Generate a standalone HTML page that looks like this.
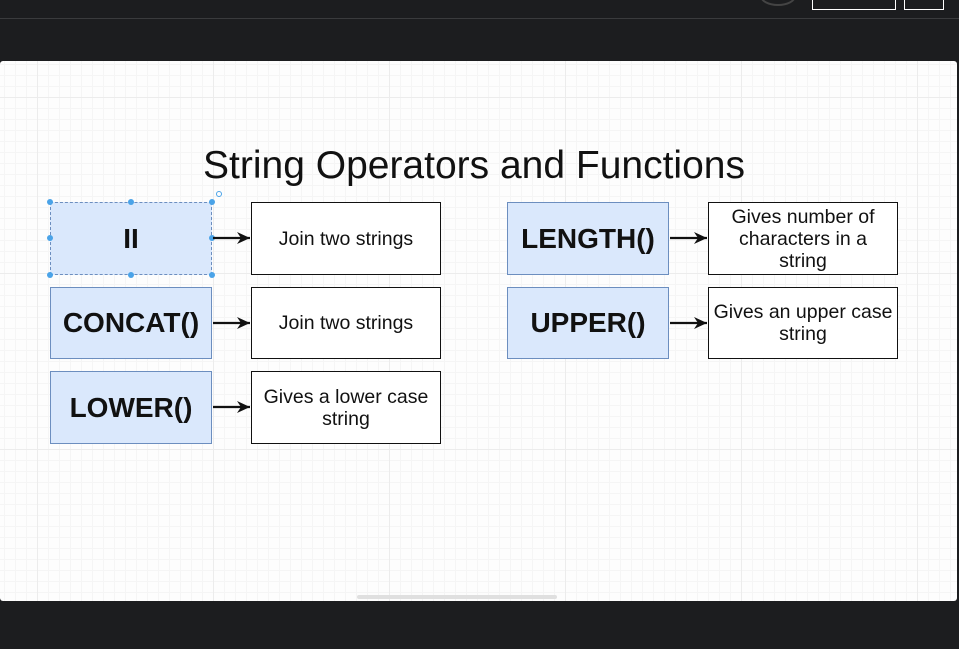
<!DOCTYPE html>
<html><head><meta charset="utf-8"><style>
*{margin:0;padding:0;box-sizing:border-box}
body{width:959px;height:649px;background:#1c1d1f;position:relative;overflow:hidden;font-family:"Liberation Sans",Arial,sans-serif}
.canvas{position:absolute;left:0;top:61px;width:957px;height:540px;background-color:#fdfdfd;
background-image:linear-gradient(#ececec 1px,transparent 1px),linear-gradient(90deg,#ececec 1px,transparent 1px),linear-gradient(#f5f5f5 1px,transparent 1px),linear-gradient(90deg,#f5f5f5 1px,transparent 1px);
background-size:176px 176px,176px 176px,11px 11px,11px 11px;background-position:37px 36px,37px 36px,4px 3px,4px 3px;border-radius:3px}
.b{position:absolute;display:flex;align-items:center;justify-content:center;text-align:center}
.f{background:#dae8fc;border:1px solid #6c8ebf;font-weight:bold;font-size:28px;color:#111}
.d{background:#fff;border:1.5px solid #111;font-size:19.5px;line-height:22px;color:#111;white-space:nowrap}
.title{position:absolute;top:144px;left:0;width:948px;text-align:center;font-size:39px;color:#111}
.h{position:absolute;width:6px;height:6px;border-radius:50%;background:#4aa3e8}
</style></head><body>
<div style="position:absolute;left:0;top:18px;width:959px;height:1px;background:#3a3b3d"></div>
<div style="position:absolute;left:812px;top:-2px;width:84px;height:12px;border:1px solid #fff"></div>
<div style="position:absolute;left:904px;top:-2px;width:40px;height:12px;border:1px solid #fff"></div>
<div style="position:absolute;left:760px;top:-14px;width:36px;height:20px;border-radius:50%;border:2px solid #444"></div>
<div class="canvas"></div>
<div style="position:absolute;left:357px;top:595px;width:200px;height:4px;background:#e0e0e0;border-radius:2px"></div>
<div class="title">String Operators and Functions</div>

<div class="b f" style="left:50px;top:202px;width:162px;height:73px;border:1px dashed #6c8ebf">II</div>
<div class="b f" style="left:50px;top:287px;width:162px;height:72px">CONCAT()</div>
<div class="b f" style="left:50px;top:371px;width:162px;height:73px">LOWER()</div>
<div class="b d" style="left:251px;top:202px;width:190px;height:73px">Join two strings</div>
<div class="b d" style="left:251px;top:287px;width:190px;height:72px">Join two strings</div>
<div class="b d" style="left:251px;top:371px;width:190px;height:73px">Gives a lower case<br>string</div>

<div class="b f" style="left:507px;top:202px;width:162px;height:73px">LENGTH()</div>
<div class="b f" style="left:507px;top:287px;width:162px;height:72px">UPPER()</div>
<div class="b d" style="left:708px;top:202px;width:190px;height:73px">Gives number of<br>characters in a<br>string</div>
<div class="b d" style="left:708px;top:287px;width:190px;height:72px;font-size:19.5px">Gives an upper case<br>string</div>

<div class="h" style="left:47px;top:199px"></div><div class="h" style="left:128px;top:199px"></div><div class="h" style="left:209px;top:199px"></div>
<div class="h" style="left:47px;top:235px"></div><div class="h" style="left:209px;top:235px"></div>
<div class="h" style="left:47px;top:272px"></div><div class="h" style="left:128px;top:272px"></div><div class="h" style="left:209px;top:272px"></div>
<div style="position:absolute;left:216px;top:191px;width:6px;height:6px;border-radius:50%;border:1px solid #4aa3e8"></div>

<svg style="position:absolute;left:0;top:0" width="959" height="649">
<defs><marker id="a" markerWidth="14" markerHeight="14" refX="13" refY="7" orient="auto" markerUnits="userSpaceOnUse"><path d="M0,1 L13,7 L0,13 L4,7 Z" fill="#111"/></marker></defs>
<g stroke="#111" stroke-width="2.2" marker-end="url(#a)">
<line x1="213" y1="238" x2="250" y2="238"/>
<line x1="213" y1="323" x2="250" y2="323"/>
<line x1="213" y1="407" x2="250" y2="407"/>
<line x1="670" y1="238" x2="707" y2="238"/>
<line x1="670" y1="323" x2="707" y2="323"/>
</g></svg>
</body></html>
